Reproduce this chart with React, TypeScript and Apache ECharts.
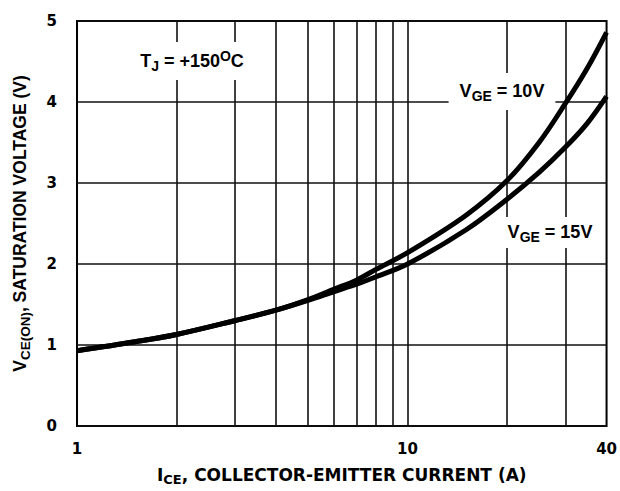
import React, { useEffect, useRef } from "react";
import * as echarts from "echarts";

const currents = [1, 1.5, 2, 3, 4, 5, 6, 7, 8, 10, 15, 20, 25, 30, 35, 40];
const vge10 = [0.93, 1.04, 1.13, 1.3, 1.43, 1.56, 1.69, 1.8, 1.93, 2.14, 2.6, 3.03, 3.5, 3.98, 4.42, 4.86];
const vge15 = [0.93, 1.04, 1.13, 1.3, 1.43, 1.55, 1.66, 1.75, 1.84, 2.0, 2.42, 2.8, 3.13, 3.44, 3.74, 4.07];
const minorGridX = [2, 3, 4, 5, 6, 7, 8, 9, 10, 20, 30];

const DJ = "'DejaVu Sans', sans-serif";
const LS = "'Liberation Sans', Arial, sans-serif";

function annRich() {
  return {
    m: { fontFamily: LS, fontWeight: "bold", fontSize: 18, lineHeight: 24, verticalAlign: "middle", color: "#000" },
    s: { fontFamily: LS, fontWeight: "bold", fontSize: 14, lineHeight: 14, verticalAlign: "bottom", color: "#000" },
    u: { fontFamily: LS, fontWeight: "bold", fontSize: 14, lineHeight: 14, verticalAlign: "top", color: "#000" },
  };
}

export default function App() {
  const ref = useRef<HTMLDivElement>(null);
  useEffect(() => {
    const chart = echarts.init(ref.current!, undefined, { renderer: "svg" });
    const lineStyle = { color: "#000", width: 5 };
    chart.setOption({
      animation: false,
      backgroundColor: "#fff",
      grid: {
        left: 77,
        right: 13,
        top: 21,
        bottom: 63,
        show: true,
        borderColor: "#000",
        borderWidth: 2,
        backgroundColor: "transparent",
      },
      xAxis: {
        type: "log",
        logBase: 10,
        min: 1,
        max: 40,
        axisLine: { show: false },
        axisTick: { show: false },
        splitLine: { show: false },
        axisLabel: {
          margin: 15,
          fontFamily: DJ,
          fontWeight: "bold",
          fontSize: 15,
          color: "#000",
          formatter: (v: number) => String(Math.round(v)),
        },
        name: "{m|I}{s|CE}{m|, COLLECTOR-EMITTER CURRENT (A)}",
        nameLocation: "middle",
        nameGap: 38,
        nameTextStyle: {
          rich: {
            m: { fontFamily: DJ, fontWeight: "bold", fontSize: 17, lineHeight: 22, verticalAlign: "middle", color: "#000" },
            s: { fontFamily: DJ, fontWeight: "bold", fontSize: 13, lineHeight: 13, verticalAlign: "bottom", color: "#000" },
          },
        },
      },
      yAxis: {
        type: "value",
        min: 0,
        max: 5,
        interval: 1,
        axisLine: { show: false },
        axisTick: { show: false },
        splitLine: { show: true, lineStyle: { color: "#111", width: 1.6 } },
        axisLabel: {
          margin: 20,
          fontFamily: DJ,
          fontWeight: "bold",
          fontSize: 15,
          color: "#000",
        },
        name: "{m|V}{s|CE(ON)}{m|, SATURATION VOLTAGE (V)}",
        nameLocation: "middle",
        nameGap: 45,
        nameRotate: 90,
        nameTextStyle: {
          rich: {
            m: { fontFamily: LS, fontWeight: "bold", fontSize: 17.5, lineHeight: 24, verticalAlign: "middle", color: "#000" },
            s: { fontFamily: LS, fontWeight: "bold", fontSize: 13.5, lineHeight: 13, verticalAlign: "bottom", color: "#000" },
          },
        },
      },
      series: [
        {
          name: "VGE = 10V",
          type: "line",
          data: currents.map((c, i) => [c, vge10[i]]),
          smooth: 0.35,
          symbol: "none",
          lineStyle,
          z: 6,
          markLine: {
            silent: true,
            symbol: ["none", "none"],
            label: { show: false },
            lineStyle: { color: "#111", width: 1.6, type: "solid" },
            z: 3,
            data: minorGridX.map((x) => ({ xAxis: x })),
          },
        },
        {
          name: "VGE = 15V",
          type: "line",
          data: currents.map((c, i) => [c, vge15[i]]),
          smooth: 0.35,
          symbol: "none",
          lineStyle,
          z: 6,
        },
      ],
      graphic: [
        {
          type: "text",
          x: 192,
          y: 61,
          z: 100,
          style: {
            text: "{m|T}{s|J}{m| = +150}{u|O}{m|C}",
            rich: annRich(),
            align: "center",
            verticalAlign: "middle",
            backgroundColor: "#fff",
            padding: [7, 12, 7, 12],
          },
        },
        {
          type: "text",
          x: 502,
          y: 91.5,
          z: 100,
          style: {
            text: "{m|V}{s|GE}{m| = 10V}",
            rich: annRich(),
            align: "center",
            verticalAlign: "middle",
            backgroundColor: "#fff",
            padding: [6, 11, 7, 11],
          },
        },
        {
          type: "text",
          x: 550,
          y: 232.5,
          z: 100,
          style: {
            text: "{m|V}{s|GE}{m| = 15V}",
            rich: annRich(),
            align: "center",
            verticalAlign: "middle",
            backgroundColor: "#fff",
            padding: [3, 8, 4, 8],
          },
        },
      ],
    });
    return () => chart.dispose();
  }, []);
  return (
    <div
      ref={ref}
      style={{ position: "fixed", left: 0, top: 0, width: 620, height: 491, background: "#fff" }}
    />
  );
}
